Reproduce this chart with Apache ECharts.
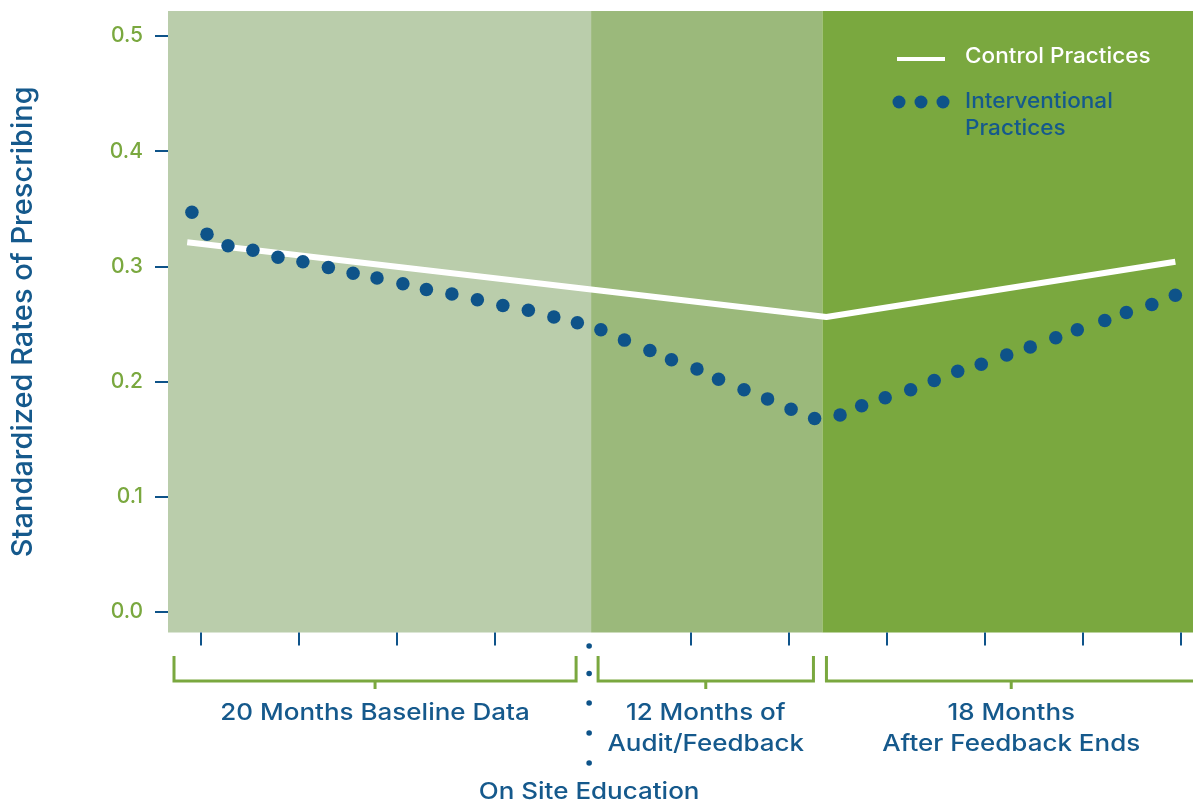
<!DOCTYPE html>
<html>
<head>
<meta charset="utf-8">
<script src="https://cdn.jsdelivr.net/npm/echarts@6/dist/echarts.min.js"></script>
<style>
  html, body { margin: 0; padding: 0; background: #ffffff; }
  #chart { width: 1193px; height: 801px; }
</style>
</head>
<body>
<div id="chart"></div>
<script>
// Month offsets (0 = first baseline month) of each interventional observation
const interventionalMonths = [-0.46, 0.31, 1.38, 2.65, 3.93, 5.2, 6.5, 7.76, 8.98, 10.3, 11.5, 12.8, 14.1, 15.4, 16.7, 18.0, 19.2,
  20.4, 21.6, 22.9, 24.0, 25.3, 26.4, 27.7, 28.9, 30.1, 31.3,
  32.6, 33.7, 34.9, 36.2, 37.4, 38.6, 39.8, 41.1, 42.3, 43.6, 44.7, 46.1, 47.2, 48.5, 49.7];
const interventionalRates = [0.347, 0.328, 0.318, 0.314, 0.308, 0.304, 0.299, 0.294, 0.290, 0.285, 0.280, 0.276, 0.271, 0.266, 0.262, 0.256, 0.251,
  0.245, 0.236, 0.227, 0.219, 0.211, 0.202, 0.193, 0.185, 0.176, 0.168,
  0.171, 0.179, 0.186, 0.193, 0.201, 0.209, 0.215, 0.223, 0.230, 0.238, 0.245, 0.253, 0.260, 0.267, 0.275];

// Control practices trend: start, end of feedback, end of follow-up
const controlMonths = [-0.7, 31.9, 49.7];
const controlRates = [0.321, 0.256, 0.304];

// Study phases (month boundaries) and their captions
const phaseBounds = [-1.68, 19.9, 31.7, 50.6];
const phaseLabels = ['20 Months Baseline Data', '12 Months of\nAudit/Feedback', '18 Months\nAfter Feedback Ends'];
const educationMonth = 19.8;
const educationLabel = 'On Site Education';

const yTicks = [0, 0.1, 0.2, 0.3, 0.4, 0.5];
const xTicks = [0, 5, 10, 15, 25, 30, 35, 40, 45, 50];

const BLUE = '#0e5389';
const TEXT_BLUE = '#15598c';
const GREEN = '#7aa83f';
const bandColors = ['#bacdab', '#9bb97b', '#7aa83f'];
const FONT = 'Inter';
const WEIGHT = 500;
const WIDE = 1.13; // horizontal stretch for the wide caption face

const chart = echarts.init(document.getElementById('chart'), null, { renderer: 'canvas' });

const bands = [];
for (let i = 0; i < bandColors.length; i++) {
  bands.push([
    { xAxis: phaseBounds[i], itemStyle: { color: bandColors[i] } },
    { xAxis: phaseBounds[i + 1] }
  ]);
}

chart.setOption({
  animation: false,
  grid: { left: 168, right: 0, top: 11, bottom: 168.5, containLabel: false },
  xAxis: {
    type: 'value',
    min: phaseBounds[0],
    max: phaseBounds[3],
    z: 10,
    splitLine: { show: false },
    axisLine: { show: true, onZero: false, lineStyle: { color: 'rgba(0,0,0,0)' } },
    axisLabel: { show: false },
    axisTick: { show: true, customValues: xTicks, length: 13, lineStyle: { color: BLUE, width: 2 } }
  },
  yAxis: {
    type: 'value',
    min: -0.0178,
    max: 0.5217,
    z: 10,
    name: 'Standardized Rates of Prescribing',
    nameLocation: 'middle',
    nameGap: 130,
    nameTextStyle: { color: TEXT_BLUE, fontSize: 29, fontFamily: FONT, fontWeight: WEIGHT },
    splitLine: { show: false },
    axisLine: { show: true, onZero: false, lineStyle: { color: 'rgba(0,0,0,0)' } },
    axisTick: { show: true, customValues: yTicks, length: 13, lineStyle: { color: BLUE, width: 2 } },
    axisLabel: {
      customValues: yTicks,
      margin: 25,
      color: GREEN,
      fontSize: 21,
      fontFamily: FONT,
      fontWeight: WEIGHT,
      formatter: v => v.toFixed(1)
    }
  },
  series: [
    {
      name: 'phases',
      type: 'line',
      data: [],
      z: 0,
      silent: true,
      markArea: { silent: true, data: bands }
    },
    {
      name: 'Control Practices',
      type: 'line',
      z: 3,
      data: controlMonths.map((m, i) => [m, controlRates[i]]),
      symbol: 'none',
      lineStyle: { color: '#ffffff', width: 6 }
    },
    {
      name: 'Interventional Practices',
      type: 'scatter',
      z: 4,
      data: interventionalMonths.map((m, i) => [m, interventionalRates[i]]),
      symbolSize: 13.5,
      itemStyle: { color: BLUE, opacity: 1 }
    }
  ]
});

// Phase brackets, captions and legend laid out from the axis scale
function drawAnnotations() {
  const px = m => chart.convertToPixel({ xAxisIndex: 0 }, m);
  const g = [];
  const legY = 681, midTick = 8;
  const insetL = [6, 7, 4], insetR = [15, 9, -3];
  const captionStyle = { fill: TEXT_BLUE, fontSize: 23, fontFamily: FONT, fontWeight: WEIGHT, align: 'center', verticalAlign: 'top', lineHeight: 31 };

  for (let i = 0; i < phaseLabels.length; i++) {
    const x0 = px(phaseBounds[i]) + insetL[i];
    const x1 = px(phaseBounds[i + 1]) - insetR[i];
    const xc = (x0 + x1) / 2;
    g.push({
      type: 'polyline',
      shape: { points: [[x0, legY - 25], [x0, legY], [x1, legY], [x1, legY - 25]] },
      style: { stroke: GREEN, lineWidth: 3, fill: null }
    });
    g.push({
      type: 'line',
      shape: { x1: xc, y1: legY, x2: xc, y2: legY + midTick },
      style: { stroke: GREEN, lineWidth: 3 }
    });
    g.push({
      type: 'text',
      x: xc, y: 698, scaleX: WIDE,
      style: Object.assign({ text: phaseLabels[i] }, captionStyle)
    });
  }

  // On-site education marker: a dotted vertical rule with its caption beneath
  const ex = px(educationMonth);
  [646, 673.5, 703, 733, 763].forEach(y => {
    g.push({ type: 'circle', shape: { cx: ex, cy: y, r: 2.8 }, style: { fill: BLUE } });
  });
  g.push({
    type: 'text', x: ex, y: 777, scaleX: WIDE,
    style: Object.assign({ text: educationLabel }, captionStyle)
  });

  // Legend
  g.push({ type: 'line', shape: { x1: 897, y1: 59, x2: 945, y2: 59 }, style: { stroke: '#ffffff', lineWidth: 4 } });
  g.push({ type: 'text', x: 965, y: 57, scaleX: WIDE * 0.95, style: { text: 'Control Practices', fill: '#ffffff', fontSize: 21, fontFamily: FONT, fontWeight: WEIGHT, verticalAlign: 'middle' } });
  [899, 921, 943].forEach(x => {
    g.push({ type: 'circle', shape: { cx: x, cy: 102, r: 6.5 }, style: { fill: BLUE } });
  });
  g.push({ type: 'text', x: 965, y: 88, scaleX: WIDE * 0.95, style: { text: 'Interventional\nPractices', fill: TEXT_BLUE, fontSize: 21, fontFamily: FONT, fontWeight: WEIGHT, lineHeight: 27, verticalAlign: 'top' } });

  g.forEach(el => { el.z = 100; el.silent = true; });
  chart.setOption({ graphic: { elements: g } });
}
drawAnnotations();
</script>
</body>
</html>
